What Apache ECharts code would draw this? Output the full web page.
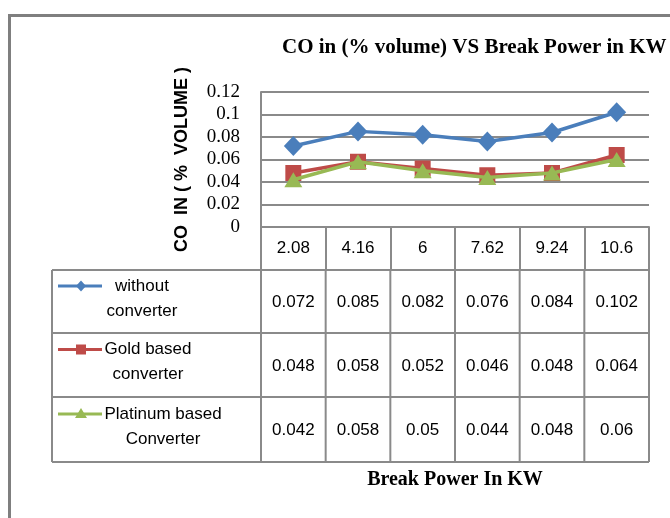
<!DOCTYPE html>
<html>
<head>
<meta charset="utf-8">
<script src="https://cdn.jsdelivr.net/npm/echarts@6/dist/echarts.min.js"></script>
<style>
html,body{margin:0;padding:0;background:#fff;}
#chart{width:670px;height:518px;}
</style>
</head>
<body>
<div id="chart"></div>
<script>
const categories = ['2.08', '4.16', '6', '7.62', '9.24', '10.6'];
const withoutConverter = [0.072, 0.085, 0.082, 0.076, 0.084, 0.102];
const goldConverter = [0.048, 0.058, 0.052, 0.046, 0.048, 0.064];
const platinumConverter = [0.042, 0.058, 0.05, 0.044, 0.048, 0.06];
const seriesLabels = ['without\nconverter', 'Gold based\nconverter', 'Platinum based\nConverter'];
const seriesNames = ['without converter', 'Gold based converter', 'Platinum based Converter'];
const titleText = 'CO in (% volume) VS Break Power in KW';
const yTitle = 'CO  IN ( %  VOLUME )';
const xTitle = 'Break Power In KW';

const colors = ['#4a7ebb', '#be4b48', '#98b954'];
const gridCol = '#8a8a8a';
const seriesData = [withoutConverter, goldConverter, platinumConverter];
const symbols = ['diamond', 'rect', 'triangle'];
const symbolSizes = [[19, 20], [16, 16], [18, 15]];

const chart = echarts.init(document.getElementById('chart'), null, {renderer: 'canvas'});

const option = {
  animation: false,
  backgroundColor: '#fff',
  title: {
    text: titleText,
    left: 277, top: 32,
    textStyle: {fontFamily: 'Liberation Serif', fontWeight: 'bold', fontSize: 21, color: '#000'}
  },
  grid: {left: 261, top: 92, width: 388, height: 135, containLabel: false},
  xAxis: {
    type: 'category',
    data: categories,
    boundaryGap: true,
    axisLine: {show: true, lineStyle: {color: gridCol, width: 2}},
    axisTick: {show: true, interval: 0, length: 43, alignWithLabel: false, lineStyle: {color: gridCol, width: 2}},
    axisLabel: {interval: 0, margin: 13, fontFamily: 'Liberation Sans', fontSize: 17, color: '#000'},
    splitLine: {show: false},
    name: xTitle,
    nameLocation: 'middle',
    nameGap: 243,
    nameTextStyle: {fontFamily: 'Liberation Serif', fontWeight: 'bold', fontSize: 20, color: '#000'}
  },
  yAxis: {
    type: 'value',
    min: 0, max: 0.12, interval: 0.02,
    axisLine: {show: true, lineStyle: {color: gridCol, width: 2}},
    axisTick: {show: false},
    axisLabel: {
      margin: 21,
      fontFamily: 'Liberation Serif', fontSize: 19, color: '#000',
      formatter: v => String(parseFloat(v.toFixed(3)))
    },
    splitLine: {show: true, lineStyle: {color: gridCol, width: 2}},
    name: yTitle,
    nameLocation: 'middle',
    nameGap: 70,
    nameRotate: 90,
    nameTextStyle: {fontFamily: 'Liberation Sans', fontWeight: 'bold', fontSize: 18, color: '#000'}
  },
  series: seriesData.map((d, i) => ({
    name: seriesNames[i],
    type: 'line',
    data: d,
    symbol: symbols[i],
    symbolSize: symbolSizes[i],
    showAllSymbol: true,
    lineStyle: {color: colors[i], width: 3.5},
    itemStyle: {color: colors[i]},
    z: 3 + i
  }))
};
chart.setOption(option);

// Data table beneath the chart, built from the same arrays
const centers = categories.map((c, i) => chart.convertToPixel({xAxisIndex: 0}, i));
const half = (centers[1] - centers[0]) / 2;
const tableLeft = 52;
const tableRight = centers[centers.length - 1] + half;
const rowLines = [270, 333, 397, 462];
const legendTextX = [142, 148, 163];
const els = [];
const lineStyle = {stroke: gridCol, lineWidth: 2};

// outer frame
els.push({type: 'rect', shape: {x: 9.5, y: 15.5, width: 720, height: 600}, style: {fill: 'none', stroke: '#7f7f7f', lineWidth: 3}, z: 0});

rowLines.forEach(y => {
  els.push({type: 'line', shape: {x1: tableLeft, y1: y, x2: tableRight, y2: y}, style: lineStyle, z: 5});
});
const vx = [tableLeft].concat(centers.map(c => c - half)).concat([tableRight]);
vx.forEach(x => {
  els.push({type: 'line', shape: {x1: x, y1: rowLines[0], x2: x, y2: rowLines[rowLines.length - 1]}, style: lineStyle, z: 5});
});

seriesData.forEach((d, r) => {
  const top = rowLines[r], bot = rowLines[r + 1];
  const mid = (top + bot) / 2;
  d.forEach((v, i) => {
    els.push({type: 'text', x: centers[i], y: mid + 1, style: {text: String(v), align: 'center', verticalAlign: 'middle', fontFamily: 'Liberation Sans', fontSize: 17, fill: '#000'}, z: 6});
  });
  // legend label
  els.push({type: 'text', x: legendTextX[r], y: mid - 3, style: {text: seriesLabels[r], align: 'center', verticalAlign: 'middle', fontFamily: 'Liberation Sans', fontSize: 17, lineHeight: 25, fill: '#000'}, z: 6});
  // legend key
  const ky = mid - 15.5;
  els.push({type: 'line', shape: {x1: 58, y1: ky, x2: 102, y2: ky}, style: {stroke: colors[r], lineWidth: 3}, z: 6});
  const kx = 81;
  if (symbols[r] === 'diamond') {
    els.push({type: 'polygon', shape: {points: [[kx, ky - 5.5], [kx + 5, ky], [kx, ky + 5.5], [kx - 5, ky]]}, style: {fill: colors[r]}, z: 7});
  } else if (symbols[r] === 'rect') {
    els.push({type: 'rect', shape: {x: kx - 5, y: ky - 5, width: 10, height: 10}, style: {fill: colors[r]}, z: 7});
  } else {
    els.push({type: 'polygon', shape: {points: [[kx, ky - 6], [kx + 6, ky + 4], [kx - 6, ky + 4]]}, style: {fill: colors[r]}, z: 7});
  }
});

chart.setOption({graphic: {elements: els}});
</script>
</body>
</html>
